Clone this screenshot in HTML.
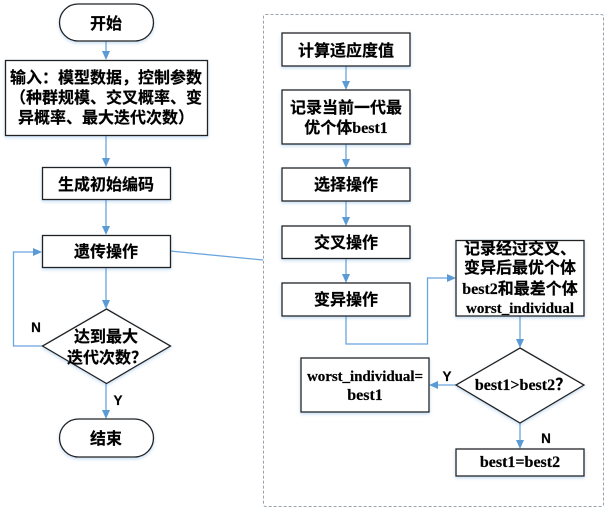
<!DOCTYPE html>
<html lang="zh-CN">
<head>
<meta charset="utf-8">
<style>
html,body{margin:0;padding:0;background:#fff;}
svg{display:block;}
text{font-family:"Liberation Serif","Noto Sans CJK SC",sans-serif;font-weight:bold;font-size:16px;fill:#000;stroke:#000;stroke-width:0.2;text-anchor:middle;}
.b{fill:#fff;stroke:#222;stroke-width:1.3;filter:url(#s);}
.l{fill:none;stroke:#6aa5dc;stroke-width:1.3;}
.a{fill:#5b9bd5;stroke:none;}
.lat{font-family:"Liberation Sans",sans-serif;font-size:13.5px;}
.w{font-size:15px;}
</style>
</head>
<body>
<svg width="609" height="514" viewBox="0 0 609 514" xmlns="http://www.w3.org/2000/svg">
<defs>
<filter id="s" x="-10%" y="-10%" width="120%" height="125%">
<feDropShadow dx="0" dy="1.5" stdDeviation="1.5" flood-color="#5b9bd5" flood-opacity="0.35"/>
</filter>
</defs>

<rect x="263.500" y="14.500" width="340" height="492" rx="2" fill="#fff" stroke="#98a4ae" stroke-width="1" stroke-dasharray="3 2"/>

<!-- connectors left -->
<path class="l" d="M106 41V52M106 135V158M106 199V226M106 267V300M106 383V410"/>
<path class="l" d="M42 346H13.500V252H33"/>
<path class="l" d="M170 251L263 260"/>
<polygon class="a" points="102,51 110,51 106,60"/>
<polygon class="a" points="102,158 110,158 106,167"/>
<polygon class="a" points="102,226 110,226 106,235"/>
<polygon class="a" points="102,300 110,300 106,309"/>
<polygon class="a" points="102,410 110,410 106,419"/>
<polygon class="a" points="33,248 33,256 42,252"/>

<!-- connectors right -->
<path class="l" d="M346 66V82M346 144V160M346 201V218M346 258V275M520 316V340M520 423V441"/>
<path class="l" d="M346 316V344H427.500V278H448"/>
<path class="l" d="M456 385H438"/>
<polygon class="a" points="342,81 350,81 346,90"/>
<polygon class="a" points="342,159 350,159 346,168"/>
<polygon class="a" points="342,217 350,217 346,226"/>
<polygon class="a" points="342,274 350,274 346,283"/>
<polygon class="a" points="516,339 524,339 520,348"/>
<polygon class="a" points="516,440 524,440 520,449"/>
<polygon class="a" points="447,274 447,282 456,278"/>
<polygon class="a" points="438,381 438,389 429,385"/>

<!-- left shapes -->
<rect class="b" x="59.500" y="4" width="94" height="37" rx="18.500"/>
<rect class="b" x="5.500" y="60.500" width="202" height="75"/>
<rect class="b" x="42.500" y="167.500" width="128" height="32"/>
<rect class="b" x="42.500" y="235.500" width="128" height="32"/>
<polygon class="b" points="106.500,309 170.500,346 106.500,383.500 42.500,346"/>
<rect class="b" x="59.500" y="419" width="94" height="38" rx="19"/>

<text x="106" y="29">开始</text>
<text x="106" y="83">输入：模型数据，控制参数</text>
<text x="106" y="103">（种群规模、交叉概率、变</text>
<text x="106" y="123">异概率、最大迭代次数）</text>
<text x="106" y="190">生成初始编码</text>
<text x="106" y="257">遗传操作</text>
<text x="106" y="342">达到最大</text>
<text x="107" y="363">迭代次数？</text>
<text x="106" y="444">结束</text>
<text class="lat" x="36" y="332">N</text>
<text class="lat" x="118" y="405">Y</text>

<!-- right shapes -->
<rect class="b" x="282" y="33" width="128" height="33"/>
<rect class="b" x="282" y="90" width="128" height="54"/>
<rect class="b" x="282" y="168" width="128" height="33"/>
<rect class="b" x="282" y="226" width="128" height="32.500"/>
<rect class="b" x="282" y="283" width="128" height="33"/>
<rect class="b" x="456" y="240.500" width="128" height="75.500"/>
<polygon class="b" points="520,348 584,385 520,423 456,385"/>
<rect class="b" x="456" y="449" width="128" height="27"/>
<rect class="b" x="301" y="358" width="128" height="54"/>

<text x="346" y="56">计算适应度值</text>
<text x="346" y="113">记录当前一代最</text>
<text x="346" y="133">优个体best1</text>
<text x="346" y="190">选择操作</text>
<text x="346" y="248">交叉操作</text>
<text x="346" y="305">变异操作</text>
<text x="520" y="254">记录经过交叉、</text>
<text x="520" y="273">变异后最优个体</text>
<text x="520" y="294">best2和最差个体</text>
<text class="w" x="520" y="313" textLength="108">worst_individual</text>
<text x="523" y="390">best1&gt;best2？</text>
<text x="520" y="467">best1=best2</text>
<text class="w" x="365" y="381" textLength="116">worst_individual=</text>
<text x="365" y="400">best1</text>
<text class="lat" x="447" y="381">Y</text>
<text class="lat" x="546" y="443">N</text>
</svg>
</body>
</html>
